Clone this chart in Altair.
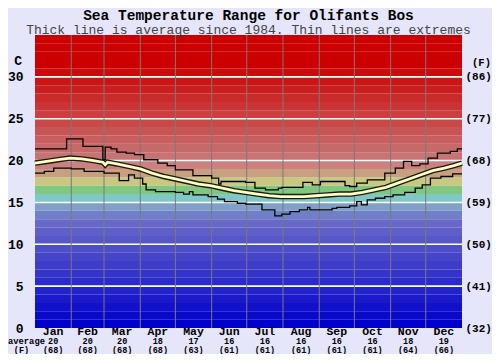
import altair as alt
import pandas as pd

# ---------------- data ----------------
title_text = "Sea Temperature Range for Olifants Bos"
subtitle_text = "Thick line is average since 1984. Thin lines are extremes"

months = ["Jan", "Feb", "Mar", "Apr", "May", "Jun", "Jul", "Aug", "Sep", "Oct", "Nov", "Dec"]
month_avg_c = [20, 20, 20, 18, 17, 16, 16, 16, 16, 16, 18, 19]
month_avg_f = [68, 68, 68, 68, 63, 61, 61, 61, 61, 61, 64, 66]
month_start = [0, 31, 59, 90, 120, 151, 181, 212, 243, 273, 304, 334]
month_mid = [15.5, 45, 74.5, 105, 135.5, 166, 196.5, 227.5, 258, 288.5, 319, 349.5]

c_ticks = [0, 5, 10, 15, 20, 25, 30]

max_days = [0, 27, 41, 58, 60, 65, 70, 78, 85, 93, 105, 113, 120, 135, 151, 157, 159,
            180, 188, 197, 208, 211, 229, 237, 244, 265, 269, 275, 284, 299, 308, 315,
            322, 329, 336, 344, 355, 361, 365]
max_vals = [21.4, 22.6, 21.7, 20.1, 21.6, 21.4, 21.0, 20.9, 20.7, 20.1, 19.7, 19.4, 18.9,
            18.2, 17.9, 17.2, 17.5, 17.4, 16.7, 16.5, 16.7, 16.8, 17.4, 17.1, 17.5, 17.0,
            16.9, 17.3, 17.7, 18.5, 19.1, 19.9, 19.4, 19.6, 20.3, 20.9, 21.1, 21.4, 21.4]

min_days = [0, 8, 16, 31, 42, 59, 72, 80, 85, 92, 95, 103, 120, 127, 132, 135, 148, 156,
            162, 173, 180, 194, 205, 211, 218, 226, 233, 235, 254, 258, 269, 275, 279,
            284, 291, 299, 306, 316, 325, 331, 338, 347, 357, 365]
min_vals = [18.5, 18.7, 19.1, 19.0, 18.7, 18.5, 17.6, 18.3, 17.9, 17.2, 16.5, 16.3, 16.2,
            16.0, 16.3, 15.9, 15.7, 15.4, 15.1, 14.9, 14.8, 14.1, 13.4, 13.6, 13.9, 14.1,
            14.4, 14.1, 14.3, 14.4, 14.6, 15.1, 14.7, 15.3, 15.5, 15.7, 15.9, 16.2, 16.7,
            17.1, 17.9, 18.1, 18.4, 18.4]

avg_days = [0, 10, 20, 30, 40, 50, 58, 60, 62, 70, 80, 90, 100, 110, 120, 130, 140, 150,
            160, 170, 180, 190, 200, 210, 220, 230, 240, 250, 260, 270, 280, 290, 300,
            310, 320, 330, 340, 350, 358, 365]
avg_vals = [19.7, 19.9, 20.1, 20.3, 20.2, 20.0, 19.8, 19.5, 19.8, 19.6, 19.3, 19.0, 18.5,
            18.1, 17.8, 17.5, 17.2, 17.0, 16.7, 16.4, 16.2, 16.0, 15.8, 15.7, 15.7, 15.7,
            15.8, 15.9, 16.0, 16.0, 16.2, 16.5, 16.8, 17.3, 17.8, 18.3, 18.8, 19.1, 19.4,
            19.7]

# ---------------- styling helpers ----------------
W, H = 427, 293
FONT = "Liberation Mono"


def band_color(v):
    if v >= 20:
        t = min(1.0, (v - 20) / 11)
        r, g = 200 + 4 * t, 115 * (1 - t)
        return "#%02x%02x%02x" % (round(r), round(g), round(g))
    fixed = {19: (205, 128, 128), 18: (200, 160, 128), 17: (200, 200, 128),
             16: (128, 200, 128), 15: (128, 200, 200), 14: (128, 160, 200),
             13: (112, 128, 200)}
    if v in fixed:
        return "#%02x%02x%02x" % fixed[v]
    t = v / 12
    return "#%02x%02x%02x" % (round(104 * t), round(104 * t), round(204 - 4 * t))


bands = pd.DataFrame({"lo": list(range(0, 35))})
bands["hi"] = bands["lo"] + 1
bands["color"] = [band_color(v) for v in bands["lo"]]

xscale = alt.Scale(domain=[0, 365], nice=False, zero=False)
yscale = alt.Scale(domain=[0, 35], nice=False, zero=True)

band_layer = alt.Chart(bands).mark_rect().encode(
    x=alt.value(0), x2=alt.value(W),
    y=alt.Y("lo:Q", scale=yscale,
            axis=alt.Axis(values=c_ticks, labelFont=FONT, labelFontWeight="bold",
                          labelFontSize=13, labelColor="black", ticks=False,
                          domain=False, grid=False, title=None, labelPadding=12)),
    y2="hi:Q",
    color=alt.Color("color:N", scale=None),
)

hgrid = alt.Chart(pd.DataFrame({"v": [5, 10, 15, 20, 25, 30]})).mark_rule(
    color="white", strokeWidth=1.6
).encode(
    y=alt.Y("v:Q", scale=yscale,
            axis=alt.Axis(orient="right", values=c_ticks,
                          labelExpr="'(' + round(datum.value * 9 / 5 + 32) + ')'",
                          labelFont=FONT, labelFontWeight="bold", labelFontSize=11,
                          labelColor="black", ticks=False, domain=False, grid=False,
                          title=None, labelPadding=3)),
)

vgrid = alt.Chart(pd.DataFrame({"d": month_start[1:]})).mark_rule(
    color="#7a7a7a", strokeWidth=1
).encode(x=alt.X("d:Q", scale=xscale, axis=None))

max_df = pd.DataFrame({"d": max_days, "v": max_vals})
min_df = pd.DataFrame({"d": min_days, "v": min_vals})
avg_df = pd.DataFrame({"d": avg_days, "v": avg_vals})


def line_layer(df, **kw):
    return alt.Chart(df).mark_line(**kw).encode(
        x=alt.X("d:Q", scale=xscale, axis=None),
        y=alt.Y("v:Q", scale=yscale, axis=None),
    )


max_line = line_layer(max_df, color="black", strokeWidth=1.3, interpolate="step-after")
min_line = line_layer(min_df, color="black", strokeWidth=1.3, interpolate="step-after")
avg_out = line_layer(avg_df, color="#1a1a1a", strokeWidth=5.5)
avg_in = line_layer(avg_df, color="#ffffc0", strokeWidth=2.8)

mdf = pd.DataFrame({"mid": month_mid, "m": months,
                    "c": [str(v) for v in month_avg_c],
                    "f": ["(%d)" % v for v in month_avg_f]})


def month_text(field, y, size, weight="bold"):
    return alt.Chart(mdf).mark_text(font=FONT, fontSize=size, fontWeight=weight,
                                    color="black", baseline="middle").encode(
        x=alt.X("mid:Q", scale=xscale, axis=None), y=alt.value(y), text=f"{field}:N")


m_names = month_text("m", 297, 11.5)
m_c = month_text("c", 306, 8.5)
m_f = month_text("f", 314.5, 8.5)


def label(text, x, y, size, weight="bold", align="center", color="black"):
    return alt.Chart(pd.DataFrame({"t": [text]})).mark_text(
        font=FONT, fontSize=size, fontWeight=weight, align=align, baseline="middle",
        color=color).encode(x=alt.value(x), y=alt.value(y), text="t:N")


title = label(title_text, W / 2, -19.5, 14.5)
subtitle = label(subtitle_text, W / 2, -5.5, 13, weight="normal", color="#444444")
c_head = label("C", -13, 26, 13, align="right")
f_head = label("(F)", 446.5, 28, 10.5)
avg_lab = label("average", -27, 306, 8.8, align="left")
f_lab = label("(F)", -13.5, 314.5, 8.5)

chart = alt.layer(
    band_layer, hgrid, vgrid, max_line, min_line, avg_out, avg_in,
    m_names, m_c, m_f, title, subtitle, c_head, f_head, avg_lab, f_lab
).resolve_axis(y="independent").properties(
    width=W, height=H,
    autosize=alt.AutoSizeParams(type="none"),
    padding={"left": 27, "top": 27, "right": 30, "bottom": 26},
    background="#e6e6fa",
).configure_view(stroke=None)

chart.save("out.html", embed_options={"renderer": "svg", "actions": False})
